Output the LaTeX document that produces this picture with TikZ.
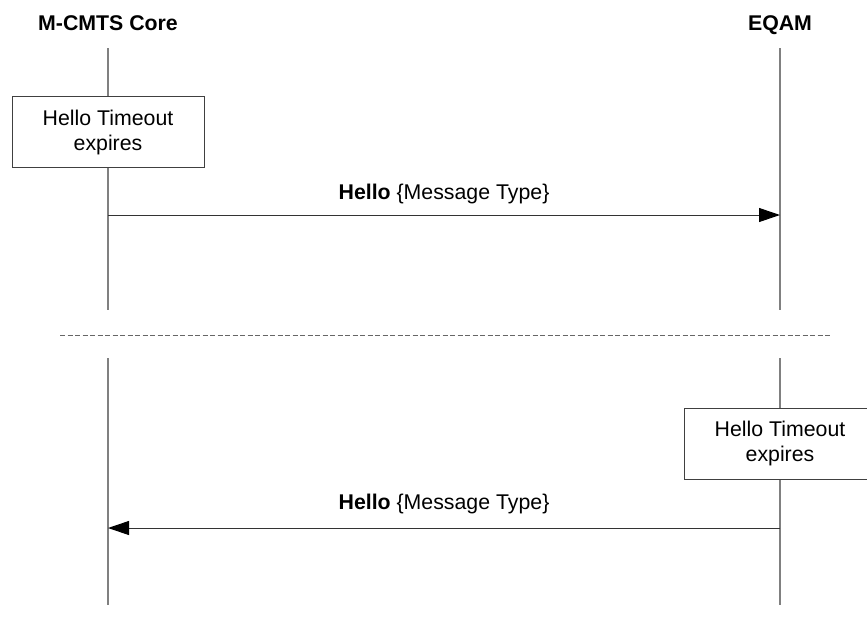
\documentclass[tikz,border=0pt]{standalone}
\usepackage{fontspec}
\setmainfont{Liberation Sans}
\usetikzlibrary{arrows.meta}
\begin{document}
\begin{tikzpicture}[x=1pt,y=-1pt,
  every node/.style={font=\fontsize{21.3}{25}\selectfont, inner sep=0pt},
  lifeline/.style={draw=black!50, line width=1.4pt},
  msg/.style={draw=black!80, line width=1pt, -{Triangle[length=21pt,width=14pt,color=black]}},
  timer/.style={draw=black!75, fill=white, line width=1pt, minimum width=192pt, minimum height=71pt, align=center},
  title/.style={font=\fontsize{21.3}{25}\selectfont\bfseries},
  sep/.style={draw=black!60, line width=0.9pt, dash pattern=on 5pt off 2.5pt}]
\useasboundingbox (0,0) rectangle (867,619);
% lifeline end points
\coordinate (c1) at (108,48);  \coordinate (c2) at (108,310);
\coordinate (c3) at (108,358); \coordinate (c4) at (108,605);
\coordinate (e1) at (780,48);  \coordinate (e2) at (780,310);
\coordinate (e3) at (780,358); \coordinate (e4) at (780,605);
\coordinate (d1) at (60,335);  \coordinate (d2) at (830,335);
% titles
\node[title, anchor=base] (core) at (108,30) {M-CMTS Core};
\node[title, anchor=base] (eqam) at (780,30) {EQAM};
% lifelines
\draw[lifeline] (c1) -- (c2);
\draw[lifeline] (c3) -- (c4);
\draw[lifeline] (e1) -- (e2);
\draw[lifeline] (e3) -- (e4);
% separator
\draw[sep] (d1) -- (d2);
% timer boxes
\node[timer] (t1) at (108,132) {Hello Timeout\\expires};
\node[timer] (t2) at (780,443.5) {Hello Timeout\\expires};
% messages
\coordinate (m1s) at (108,215); \coordinate (m1e) at (780,215);
\coordinate (m2s) at (780,528); \coordinate (m2e) at (108,528);
\draw[msg] (m1s) -- (m1e);
\draw[msg] (m2s) -- (m2e);
\node[anchor=base] (l1) at (444,199) {\textbf{Hello} \{Message Type\}};
\node[anchor=base] (l2) at (444,509) {\textbf{Hello} \{Message Type\}};
\end{tikzpicture}
\end{document}
